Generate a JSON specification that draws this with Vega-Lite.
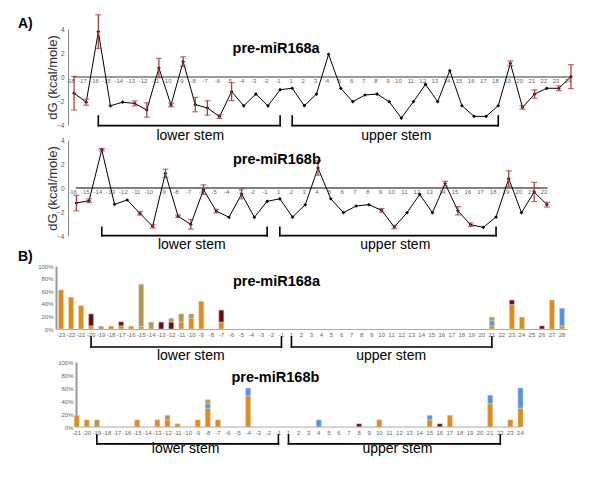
{
  "$schema": "https://vega.github.io/schema/vega-lite/v6.json",
  "padding": {"left": 18, "top": 14, "right": 5, "bottom": 5},
  "config": {"view": {"stroke": null}, "font": "Liberation Sans", "axis": {"grid": false}, "axisY": {"tickCount": 10, "labelOverlap": false}},
  "datasets": {
    "a1": [
      {"pos": "-18", "dg": -1.35, "err": 1.4}, {"pos": "-17", "dg": -2.1, "err": 0.25}, {"pos": "-16", "dg": 3.78, "err": 1.4},
      {"pos": "-15", "dg": -2.4, "err": 0}, {"pos": "-14", "dg": -2.1, "err": 0}, {"pos": "-13", "dg": -2.2, "err": 0.2},
      {"pos": "-12", "dg": -2.75, "err": 0.6}, {"pos": "-11", "dg": 0.75, "err": 0.8}, {"pos": "-10", "dg": -2.33, "err": 0.15},
      {"pos": "-9", "dg": 1.28, "err": 0.4}, {"pos": "-8", "dg": -2.3, "err": 0.6}, {"pos": "-7", "dg": -2.58, "err": 0.6},
      {"pos": "-6", "dg": -3.3, "err": 0.15}, {"pos": "-5", "dg": -1.22, "err": 0.75}, {"pos": "-4", "dg": -2.4, "err": 0},
      {"pos": "-3", "dg": -1.42, "err": 0}, {"pos": "-2", "dg": -2.4, "err": 0}, {"pos": "-1", "dg": -1.06, "err": 0},
      {"pos": "1", "dg": -0.94, "err": 0}, {"pos": "2", "dg": -2.39, "err": 0}, {"pos": "3", "dg": -1.42, "err": 0},
      {"pos": "4", "dg": 1.89, "err": 0}, {"pos": "5", "dg": -0.94, "err": 0}, {"pos": "6", "dg": -2.06, "err": 0},
      {"pos": "7", "dg": -1.5, "err": 0}, {"pos": "8", "dg": -1.42, "err": 0}, {"pos": "9", "dg": -2.06, "err": 0},
      {"pos": "10", "dg": -3.42, "err": 0}, {"pos": "11", "dg": -2.06, "err": 0}, {"pos": "12", "dg": -0.61, "err": 0},
      {"pos": "13", "dg": -2.06, "err": 0}, {"pos": "14", "dg": 0.53, "err": 0}, {"pos": "15", "dg": -2.39, "err": 0},
      {"pos": "16", "dg": -3.28, "err": 0}, {"pos": "17", "dg": -3.28, "err": 0}, {"pos": "18", "dg": -2.39, "err": 0},
      {"pos": "19", "dg": 1.14, "err": 0.2}, {"pos": "20", "dg": -2.53, "err": 0.15}, {"pos": "21", "dg": -1.42, "err": 0.35},
      {"pos": "22", "dg": -0.94, "err": 0}, {"pos": "23", "dg": -0.94, "err": 0.2}, {"pos": "24", "dg": 0.03, "err": 1.0}
    ],
    "a2": [
      {"pos": "-16", "dg": -1.25, "err": 0.65}, {"pos": "-15", "dg": -1.06, "err": 0.15}, {"pos": "-14", "dg": 3.19, "err": 0.1},
      {"pos": "-13", "dg": -1.36, "err": 0}, {"pos": "-12", "dg": -1.0, "err": 0}, {"pos": "-11", "dg": -2.11, "err": 0.15},
      {"pos": "-10", "dg": -3.19, "err": 0.15}, {"pos": "-9", "dg": 1.22, "err": 0.35}, {"pos": "-8", "dg": -2.36, "err": 0.1},
      {"pos": "-7", "dg": -3.03, "err": 0.4}, {"pos": "-6", "dg": -0.14, "err": 0.4}, {"pos": "-5", "dg": -1.92, "err": 0.15},
      {"pos": "-4", "dg": -2.44, "err": 0}, {"pos": "-3", "dg": -0.5, "err": 0.4}, {"pos": "-2", "dg": -2.44, "err": 0},
      {"pos": "-1", "dg": -1.11, "err": 0}, {"pos": "1", "dg": -0.9, "err": 0}, {"pos": "2", "dg": -2.42, "err": 0},
      {"pos": "3", "dg": -1.39, "err": 0}, {"pos": "4", "dg": 1.67, "err": 0.6}, {"pos": "5", "dg": -0.89, "err": 0},
      {"pos": "6", "dg": -2.06, "err": 0}, {"pos": "7", "dg": -1.5, "err": 0}, {"pos": "8", "dg": -1.39, "err": 0},
      {"pos": "9", "dg": -1.86, "err": 0.15}, {"pos": "10", "dg": -3.25, "err": 0.15}, {"pos": "11", "dg": -2.06, "err": 0},
      {"pos": "12", "dg": -0.53, "err": 0}, {"pos": "13", "dg": -2.06, "err": 0}, {"pos": "14", "dg": 0.36, "err": 0.2},
      {"pos": "15", "dg": -1.9, "err": 0.35}, {"pos": "16", "dg": -3.06, "err": 0.15}, {"pos": "17", "dg": -3.28, "err": 0},
      {"pos": "18", "dg": -2.42, "err": 0}, {"pos": "19", "dg": 0.78, "err": 0.65}, {"pos": "20", "dg": -2.06, "err": 0},
      {"pos": "21", "dg": -0.33, "err": 0.8}, {"pos": "22", "dg": -1.39, "err": 0.2}
    ],
    "b1": [
      {"pos": "-23", "type": "class 1", "pct": 0.62}, {"pos": "-22", "type": "class 1", "pct": 0.505},
      {"pos": "-21", "type": "class 1", "pct": 0.37},
      {"pos": "-20", "type": "class 1", "pct": 0.05}, {"pos": "-20", "type": "class 2", "pct": 0.19},
      {"pos": "-19", "type": "class 4", "pct": 0.045}, {"pos": "-18", "type": "class 1", "pct": 0.045},
      {"pos": "-17", "type": "class 1", "pct": 0.05}, {"pos": "-17", "type": "class 2", "pct": 0.065},
      {"pos": "-16", "type": "class 1", "pct": 0.045},
      {"pos": "-15", "type": "class 1", "pct": 0.04}, {"pos": "-15", "type": "class 4", "pct": 0.67},
      {"pos": "-14", "type": "class 4", "pct": 0.11}, {"pos": "-13", "type": "class 2", "pct": 0.11},
      {"pos": "-12", "type": "class 2", "pct": 0.11}, {"pos": "-12", "type": "class 4", "pct": 0.06},
      {"pos": "-11", "type": "class 1", "pct": 0.11}, {"pos": "-11", "type": "class 4", "pct": 0.13},
      {"pos": "-10", "type": "class 1", "pct": 0.17}, {"pos": "-10", "type": "class 4", "pct": 0.07},
      {"pos": "-9", "type": "class 1", "pct": 0.44},
      {"pos": "-7", "type": "class 1", "pct": 0.11}, {"pos": "-7", "type": "class 2", "pct": 0.19},
      {"pos": "21", "type": "class 1", "pct": 0.05}, {"pos": "21", "type": "class 3", "pct": 0.08}, {"pos": "21", "type": "class 4", "pct": 0.06},
      {"pos": "23", "type": "class 1", "pct": 0.39}, {"pos": "23", "type": "class 2", "pct": 0.07},
      {"pos": "24", "type": "class 1", "pct": 0.19}, {"pos": "26", "type": "class 2", "pct": 0.05},
      {"pos": "27", "type": "class 1", "pct": 0.46},
      {"pos": "28", "type": "class 1", "pct": 0.05}, {"pos": "28", "type": "class 3", "pct": 0.28}
    ],
    "b2": [
      {"pos": "-21", "type": "class 1", "pct": 0.18}, {"pos": "-20", "type": "class 1", "pct": 0.11},
      {"pos": "-19", "type": "class 4", "pct": 0.11}, {"pos": "-15", "type": "class 1", "pct": 0.11},
      {"pos": "-13", "type": "class 1", "pct": 0.11},
      {"pos": "-12", "type": "class 1", "pct": 0.11}, {"pos": "-12", "type": "class 4", "pct": 0.07},
      {"pos": "-11", "type": "class 1", "pct": 0.05}, {"pos": "-9", "type": "class 1", "pct": 0.11},
      {"pos": "-8", "type": "class 1", "pct": 0.29}, {"pos": "-8", "type": "class 3", "pct": 0.07}, {"pos": "-8", "type": "class 4", "pct": 0.06},
      {"pos": "-7", "type": "class 1", "pct": 0.11},
      {"pos": "-4", "type": "class 1", "pct": 0.48}, {"pos": "-4", "type": "class 3", "pct": 0.12},
      {"pos": "4", "type": "class 3", "pct": 0.11}, {"pos": "8", "type": "class 2", "pct": 0.05},
      {"pos": "10", "type": "class 1", "pct": 0.11},
      {"pos": "15", "type": "class 1", "pct": 0.11}, {"pos": "15", "type": "class 3", "pct": 0.07},
      {"pos": "16", "type": "class 2", "pct": 0.05}, {"pos": "17", "type": "class 1", "pct": 0.18},
      {"pos": "21", "type": "class 1", "pct": 0.36}, {"pos": "21", "type": "class 3", "pct": 0.13},
      {"pos": "23", "type": "class 1", "pct": 0.11},
      {"pos": "24", "type": "class 1", "pct": 0.29}, {"pos": "24", "type": "class 3", "pct": 0.31}
    ],
    "brA1": [{"s": "-16", "e": "-1", "mid": "-8", "label": "lower stem"}, {"s": "1", "e": "18", "mid": "10", "label": "upper stem"}],
    "brA2": [{"s": "-14", "e": "-1", "mid": "-7", "label": "lower stem"}, {"s": "1", "e": "18", "mid": "10", "label": "upper stem"}],
    "brB1": [{"s": "-20", "e": "-1", "mid": "-10", "label": "lower stem"}, {"s": "1", "e": "21", "mid": "11", "label": "upper stem"}],
    "brB2": [{"s": "-19", "e": "-1", "mid": "-10", "label": "lower stem"}, {"s": "1", "e": "22", "mid": "12", "label": "upper stem"}]
  },
  "spacing": -3,
  "vconcat": [
    {
      "bounds": "flush",
      "spacing": 15,
      "vconcat": [
        {
          "width": 521,
          "height": 96,
          "title": {"text": "A)", "anchor": "start", "frame": "group", "dx": -38, "dy": 17, "offset": 0, "fontSize": 14, "fontWeight": "bold", "color": "#000000"},
          "layer": [
            {
              "data": {"values": [{"from": "-18", "to": "24"}]},
              "mark": {"type": "rule", "color": "#9a9a9a", "strokeWidth": 2, "strokeCap": "square"},
              "encoding": {"x": {"field": "from", "type": "ordinal", "title": null}, "x2": {"field": "to"},
                "y": {"datum": 0, "axis": {"title": "dG (kcal/mole)", "offset": -12, "titleFontSize": 13, "titleFontWeight": "normal", "titleColor": "#333333", "titlePadding": -3, "values": [-4, -2, 0, 2, 4], "tickCount": 10, "labelOverlap": false, "ticks": false, "labelFontSize": 6.5, "labelColor": "#555555", "labelPadding": 4, "domainColor": "#888888"}}}
            },
            {
              "data": {"name": "a1"},
              "mark": {"type": "line", "color": "#000000", "strokeWidth": 1, "point": {"shape": "diamond", "size": 14, "color": "#000000", "filled": true}},
              "encoding": {
                "x": {"field": "pos", "type": "ordinal",
                  "sort": ["-18","-17","-16","-15","-14","-13","-12","-11","-10","-9","-8","-7","-6","-5","-4","-3","-2","-1","1","2","3","4","5","6","7","8","9","10","11","12","13","14","15","16","17","18","19","20","21","22","23","24"],
                  "scale": {"type": "point", "padding": 0.995, "align": 0.75, "domain": ["-18","-17","-16","-15","-14","-13","-12","-11","-10","-9","-8","-7","-6","-5","-4","-3","-2","-1","1","2","3","4","5","6","7","8","9","10","11","12","13","14","15","16","17","18","19","20","21","22","23","24"]},
                  "axis": {"orient": "bottom", "offset": -48, "title": null, "ticks": false, "domain": false, "labelFontSize": 6, "labelColor": "#666666", "labelPadding": 3, "labelAngle": 0, "labelOverlap": false}},
                "y": {"field": "dg", "type": "quantitative", "scale": {"domain": [-4, 4], "nice": false, "zero": false},
                  "axis": {"title": "dG (kcal/mole)", "offset": -12, "titleFontSize": 13, "titleFontWeight": "normal", "titleColor": "#333333", "titlePadding": -3, "values": [-4, -2, 0, 2, 4], "tickCount": 10, "labelOverlap": false, "ticks": false, "labelFontSize": 6.5, "labelColor": "#555555", "labelPadding": 4, "domainColor": "#888888"}}
              }
            },
            {
              "data": {"name": "a1"},
              "transform": [{"filter": "datum.err > 0"}],
              "mark": {"type": "errorbar", "ticks": true, "size": 6, "thickness": 1.2, "color": "#a8323a"},
              "encoding": {"x": {"field": "pos", "type": "ordinal", "title": null},
                "y": {"field": "dg", "type": "quantitative", "axis": {"title": "dG (kcal/mole)", "offset": -12, "titleFontSize": 13, "titleFontWeight": "normal", "titleColor": "#333333", "titlePadding": -3, "values": [-4, -2, 0, 2, 4], "tickCount": 10, "labelOverlap": false, "ticks": false, "labelFontSize": 6.5, "labelColor": "#555555", "labelPadding": 4, "domainColor": "#888888"}},
                "yError": {"field": "err"}}
            },
            {
              "data": {"name": "brA1"},
              "mark": {"type": "rule", "color": "#000000", "strokeWidth": 1.6, "strokeCap": "square"},
              "encoding": {"x": {"field": "s", "type": "ordinal", "title": null}, "x2": {"field": "e"}, "y": {"datum": -4.05}}
            },
            {
              "data": {"name": "brA1"},
              "mark": {"type": "rule", "color": "#000000", "strokeWidth": 1.6, "strokeCap": "square"},
              "encoding": {"x": {"field": "s", "type": "ordinal", "title": null}, "y": {"datum": -4.05}, "y2": {"datum": -3.25}}
            },
            {
              "data": {"name": "brA1"},
              "mark": {"type": "rule", "color": "#000000", "strokeWidth": 1.6, "strokeCap": "square"},
              "encoding": {"x": {"field": "e", "type": "ordinal", "title": null}, "y": {"datum": -4.05}, "y2": {"datum": -3.25}}
            },
            {
              "data": {"name": "brA1"},
              "mark": {"type": "text", "fontSize": 14, "dx": -5, "align": "center", "baseline": "alphabetic", "color": "#000000"},
              "encoding": {"x": {"field": "mid", "type": "ordinal", "title": null}, "y": {"datum": -5.25}, "text": {"field": "label"}}
            },
            {
              "data": {"values": [{"label": "pre-miR168a"}]},
              "mark": {"type": "text", "fontSize": 14.5, "fontWeight": "bold", "dx": -4, "align": "center", "baseline": "alphabetic", "color": "#000000"},
              "encoding": {"x": {"datum": "-1", "type": "ordinal"}, "y": {"datum": 1.98}, "text": {"field": "label"}}
            }
          ]
        },
        {
          "width": 496,
          "height": 96,
          "layer": [
            {
              "data": {"values": [{"from": "-16", "to": "22"}]},
              "mark": {"type": "rule", "color": "#000000", "strokeWidth": 1, "strokeCap": "square"},
              "encoding": {"x": {"field": "from", "type": "ordinal", "title": null}, "x2": {"field": "to"},
                "y": {"datum": 0, "axis": {"title": "dG (kcal/mole)", "offset": -12, "titleFontSize": 13, "titleFontWeight": "normal", "titleColor": "#333333", "titlePadding": -3, "values": [-4, -2, 0, 2, 4], "tickCount": 10, "labelOverlap": false, "ticks": false, "labelFontSize": 6.5, "labelColor": "#555555", "labelPadding": 4, "domainColor": "#888888"}}}
            },
            {
              "data": {"name": "a2"},
              "mark": {"type": "line", "color": "#000000", "strokeWidth": 1, "point": {"shape": "diamond", "size": 14, "color": "#000000", "filled": true}},
              "encoding": {
                "x": {"field": "pos", "type": "ordinal",
                  "sort": ["-16","-15","-14","-13","-12","-11","-10","-9","-8","-7","-6","-5","-4","-3","-2","-1","1","2","3","4","5","6","7","8","9","10","11","12","13","14","15","16","17","18","19","20","21","22"],
                  "scale": {"type": "point", "padding": 1.02, "align": 0.8, "domain": ["-16","-15","-14","-13","-12","-11","-10","-9","-8","-7","-6","-5","-4","-3","-2","-1","1","2","3","4","5","6","7","8","9","10","11","12","13","14","15","16","17","18","19","20","21","22"]},
                  "axis": {"orient": "bottom", "offset": -48, "title": null, "ticks": false, "domain": false, "labelFontSize": 6, "labelColor": "#666666", "labelPadding": 3, "labelAngle": 0, "labelOverlap": false}},
                "y": {"field": "dg", "type": "quantitative", "scale": {"domain": [-4, 4], "nice": false, "zero": false},
                  "axis": {"title": "dG (kcal/mole)", "offset": -12, "titleFontSize": 13, "titleFontWeight": "normal", "titleColor": "#333333", "titlePadding": -3, "values": [-4, -2, 0, 2, 4], "tickCount": 10, "labelOverlap": false, "ticks": false, "labelFontSize": 6.5, "labelColor": "#555555", "labelPadding": 4, "domainColor": "#888888"}}
              }
            },
            {
              "data": {"name": "a2"},
              "transform": [{"filter": "datum.err > 0"}],
              "mark": {"type": "errorbar", "ticks": true, "size": 6, "thickness": 1.2, "color": "#a8323a"},
              "encoding": {"x": {"field": "pos", "type": "ordinal", "title": null},
                "y": {"field": "dg", "type": "quantitative", "axis": {"title": "dG (kcal/mole)", "offset": -12, "titleFontSize": 13, "titleFontWeight": "normal", "titleColor": "#333333", "titlePadding": -3, "values": [-4, -2, 0, 2, 4], "tickCount": 10, "labelOverlap": false, "ticks": false, "labelFontSize": 6.5, "labelColor": "#555555", "labelPadding": 4, "domainColor": "#888888"}},
                "yError": {"field": "err"}}
            },
            {
              "data": {"name": "brA2"},
              "mark": {"type": "rule", "color": "#000000", "strokeWidth": 1.6, "strokeCap": "square"},
              "encoding": {"x": {"field": "s", "type": "ordinal", "title": null}, "x2": {"field": "e"}, "y": {"datum": -3.97}}
            },
            {
              "data": {"name": "brA2"},
              "mark": {"type": "rule", "color": "#000000", "strokeWidth": 1.6, "strokeCap": "square"},
              "encoding": {"x": {"field": "s", "type": "ordinal", "title": null}, "y": {"datum": -3.97}, "y2": {"datum": -3.28}}
            },
            {
              "data": {"name": "brA2"},
              "mark": {"type": "rule", "color": "#000000", "strokeWidth": 1.6, "strokeCap": "square"},
              "encoding": {"x": {"field": "e", "type": "ordinal", "title": null}, "y": {"datum": -3.97}, "y2": {"datum": -3.28}}
            },
            {
              "data": {"name": "brA2"},
              "mark": {"type": "text", "fontSize": 14, "dx": 1, "align": "center", "baseline": "alphabetic", "color": "#000000"},
              "encoding": {"x": {"field": "mid", "type": "ordinal", "title": null}, "y": {"datum": -5.12}, "text": {"field": "label"}}
            },
            {
              "data": {"values": [{"label": "pre-miR168b"}]},
              "mark": {"type": "text", "fontSize": 14.5, "fontWeight": "bold", "dx": -3, "align": "center", "baseline": "alphabetic", "color": "#000000"},
              "encoding": {"x": {"datum": "1", "type": "ordinal"}, "y": {"datum": 1.97}, "text": {"field": "label"}}
            }
          ]
        }
      ]
    },
    {
      "bounds": "flush",
      "spacing": 33,
      "vconcat": [
        {
          "width": 511,
          "height": 63,
          "title": {"text": "B)", "anchor": "start", "frame": "group", "dx": -38, "dy": 1, "offset": 0, "fontSize": 14, "fontWeight": "bold", "color": "#000000"},
          "layer": [
            {
              "data": {"name": "b1"},
              "mark": {"type": "bar", "stroke": "#d8d8d8", "strokeWidth": 0.5},
              "encoding": {
                "x": {"field": "pos", "type": "ordinal",
                  "scale": {"type": "band", "paddingInner": 0.5, "paddingOuter": 0.25, "domain": ["-23","-22","-21","-20","-19","-18","-17","-16","-15","-14","-13","-12","-11","-10","-9","-8","-7","-6","-5","-4","-3","-2","-1","1","2","3","4","5","6","7","8","9","10","11","12","13","14","15","16","17","18","19","20","21","22","23","24","25","26","27","28"]},
                  "axis": {"title": null, "ticks": false, "labelFontSize": 6, "labelColor": "#666666", "labelPadding": 2, "labelAngle": 0, "labelOverlap": false, "domainColor": "#aaaaaa"}},
                "y": {"field": "pct", "type": "quantitative", "stack": "zero", "scale": {"domain": [0, 1], "nice": false},
                  "axis": {"title": null, "format": ".0%", "values": [0, 0.2, 0.4, 0.6, 0.8, 1], "tickCount": 10, "labelOverlap": false, "ticks": false, "labelFontSize": 6, "labelColor": "#666666", "labelPadding": 3, "domainColor": "#999999", "domainWidth": 2}},
                "color": {"field": "type", "type": "nominal", "scale": {"domain": ["class 1", "class 2", "class 3", "class 4"], "range": ["#e38a12", "#730a0a", "#4f94ec", "#b5964e"]}, "legend": null},
                "order": {"field": "type", "sort": "ascending"}
              }
            },
            {
              "data": {"name": "brB1"},
              "mark": {"type": "rule", "color": "#000000", "strokeWidth": 1.6, "strokeCap": "square"},
              "encoding": {"x": {"field": "s", "type": "ordinal", "title": null}, "x2": {"field": "e"},
                "y": {"datum": -0.286, "axis": {"title": null, "format": ".0%", "values": [0, 0.2, 0.4, 0.6, 0.8, 1], "tickCount": 10, "labelOverlap": false, "ticks": false, "labelFontSize": 6, "labelColor": "#666666", "labelPadding": 3, "domainColor": "#999999", "domainWidth": 2}}}
            },
            {
              "data": {"name": "brB1"},
              "mark": {"type": "rule", "color": "#000000", "strokeWidth": 1.6, "strokeCap": "square"},
              "encoding": {"x": {"field": "s", "type": "ordinal", "title": null},
                "y": {"datum": -0.286, "axis": {"title": null, "format": ".0%", "values": [0, 0.2, 0.4, 0.6, 0.8, 1], "tickCount": 10, "labelOverlap": false, "ticks": false, "labelFontSize": 6, "labelColor": "#666666", "labelPadding": 3, "domainColor": "#999999", "domainWidth": 2}}, "y2": {"datum": -0.127}}
            },
            {
              "data": {"name": "brB1"},
              "mark": {"type": "rule", "color": "#000000", "strokeWidth": 1.6, "strokeCap": "square"},
              "encoding": {"x": {"field": "e", "type": "ordinal", "title": null},
                "y": {"datum": -0.286, "axis": {"title": null, "format": ".0%", "values": [0, 0.2, 0.4, 0.6, 0.8, 1], "tickCount": 10, "labelOverlap": false, "ticks": false, "labelFontSize": 6, "labelColor": "#666666", "labelPadding": 3, "domainColor": "#999999", "domainWidth": 2}}, "y2": {"datum": -0.127}}
            },
            {
              "data": {"name": "brB1"},
              "mark": {"type": "text", "fontSize": 14, "dx": -0.5, "align": "center", "baseline": "alphabetic", "color": "#000000"},
              "encoding": {"x": {"field": "mid", "type": "ordinal", "title": null},
                "y": {"datum": -0.49, "axis": {"title": null, "format": ".0%", "values": [0, 0.2, 0.4, 0.6, 0.8, 1], "tickCount": 10, "labelOverlap": false, "ticks": false, "labelFontSize": 6, "labelColor": "#666666", "labelPadding": 3, "domainColor": "#999999", "domainWidth": 2}}, "text": {"field": "label"}}
            },
            {
              "data": {"values": [{"label": "pre-miR168a"}]},
              "mark": {"type": "text", "fontSize": 14.5, "fontWeight": "bold", "dx": -5, "align": "center", "baseline": "alphabetic", "color": "#000000"},
              "encoding": {"x": {"datum": "-1", "type": "ordinal"},
                "y": {"datum": 0.69, "axis": {"title": null, "format": ".0%", "values": [0, 0.2, 0.4, 0.6, 0.8, 1], "tickCount": 10, "labelOverlap": false, "ticks": false, "labelFontSize": 6, "labelColor": "#666666", "labelPadding": 3, "domainColor": "#999999", "domainWidth": 2}}, "text": {"field": "label"}}
            }
          ]
        },
        {
          "width": 469,
          "height": 65,
          "layer": [
            {
              "data": {"name": "b2"},
              "mark": {"type": "bar", "stroke": "#d8d8d8", "strokeWidth": 0.5},
              "encoding": {
                "x": {"field": "pos", "type": "ordinal",
                  "scale": {"type": "band", "paddingInner": 0.5, "paddingOuter": 1.2, "align": 0.9, "domain": ["-21","-20","-19","-18","-17","-16","-15","-14","-13","-12","-11","-10","-9","-8","-7","-6","-5","-4","-3","-2","-1","1","2","3","4","5","6","7","8","9","10","11","12","13","14","15","16","17","18","19","20","21","22","23","24"]},
                  "axis": {"title": null, "ticks": false, "labelFontSize": 6, "labelColor": "#666666", "labelPadding": 2, "labelAngle": 0, "labelOverlap": false, "domain": false}},
                "y": {"field": "pct", "type": "quantitative", "stack": "zero", "scale": {"domain": [0, 1], "nice": false},
                  "axis": {"title": null, "offset": -20, "format": ".0%", "values": [0, 0.2, 0.4, 0.6, 0.8, 1], "tickCount": 10, "labelOverlap": false, "ticks": false, "labelFontSize": 6, "labelColor": "#666666", "labelPadding": 3, "domainColor": "#999999", "domainWidth": 2}},
                "color": {"field": "type", "type": "nominal", "scale": {"domain": ["class 1", "class 2", "class 3", "class 4"], "range": ["#e38a12", "#730a0a", "#4f94ec", "#b5964e"]}, "legend": null},
                "order": {"field": "type", "sort": "ascending"}
              }
            },
            {
              "data": {"values": [{"from": "-21", "to": "24"}]},
              "mark": {"type": "rule", "color": "#aaaaaa", "strokeWidth": 1},
              "encoding": {"x": {"field": "from", "type": "ordinal", "title": null}, "x2": {"field": "to"},
                "y": {"datum": 0, "axis": {"title": null, "offset": -20, "format": ".0%", "values": [0, 0.2, 0.4, 0.6, 0.8, 1], "tickCount": 10, "labelOverlap": false, "ticks": false, "labelFontSize": 6, "labelColor": "#666666", "labelPadding": 3, "domainColor": "#999999", "domainWidth": 2}}}
            },
            {
              "data": {"name": "brB2"},
              "mark": {"type": "rule", "color": "#000000", "strokeWidth": 1.6, "strokeCap": "square"},
              "encoding": {"x": {"field": "s", "type": "ordinal", "title": null}, "x2": {"field": "e"},
                "y": {"datum": -0.26, "axis": {"title": null, "offset": -20, "format": ".0%", "values": [0, 0.2, 0.4, 0.6, 0.8, 1], "tickCount": 10, "labelOverlap": false, "ticks": false, "labelFontSize": 6, "labelColor": "#666666", "labelPadding": 3, "domainColor": "#999999", "domainWidth": 2}}}
            },
            {
              "data": {"name": "brB2"},
              "mark": {"type": "rule", "color": "#000000", "strokeWidth": 1.6, "strokeCap": "square"},
              "encoding": {"x": {"field": "s", "type": "ordinal", "title": null},
                "y": {"datum": -0.26, "axis": {"title": null, "offset": -20, "format": ".0%", "values": [0, 0.2, 0.4, 0.6, 0.8, 1], "tickCount": 10, "labelOverlap": false, "ticks": false, "labelFontSize": 6, "labelColor": "#666666", "labelPadding": 3, "domainColor": "#999999", "domainWidth": 2}}, "y2": {"datum": -0.123}}
            },
            {
              "data": {"name": "brB2"},
              "mark": {"type": "rule", "color": "#000000", "strokeWidth": 1.6, "strokeCap": "square"},
              "encoding": {"x": {"field": "e", "type": "ordinal", "title": null},
                "y": {"datum": -0.26, "axis": {"title": null, "offset": -20, "format": ".0%", "values": [0, 0.2, 0.4, 0.6, 0.8, 1], "tickCount": 10, "labelOverlap": false, "ticks": false, "labelFontSize": 6, "labelColor": "#666666", "labelPadding": 3, "domainColor": "#999999", "domainWidth": 2}}, "y2": {"datum": -0.123}}
            },
            {
              "data": {"name": "brB2"},
              "mark": {"type": "text", "fontSize": 14, "dx": -2, "align": "center", "baseline": "alphabetic", "color": "#000000"},
              "encoding": {"x": {"field": "mid", "type": "ordinal", "title": null},
                "y": {"datum": -0.4, "axis": {"title": null, "offset": -20, "format": ".0%", "values": [0, 0.2, 0.4, 0.6, 0.8, 1], "tickCount": 10, "labelOverlap": false, "ticks": false, "labelFontSize": 6, "labelColor": "#666666", "labelPadding": 3, "domainColor": "#999999", "domainWidth": 2}}, "text": {"field": "label"}}
            },
            {
              "data": {"values": [{"label": "pre-miR168b"}]},
              "mark": {"type": "text", "fontSize": 14.5, "fontWeight": "bold", "dx": -3, "align": "center", "baseline": "alphabetic", "color": "#000000"},
              "encoding": {"x": {"datum": "-1", "type": "ordinal"},
                "y": {"datum": 0.69, "axis": {"title": null, "offset": -20, "format": ".0%", "values": [0, 0.2, 0.4, 0.6, 0.8, 1], "tickCount": 10, "labelOverlap": false, "ticks": false, "labelFontSize": 6, "labelColor": "#666666", "labelPadding": 3, "domainColor": "#999999", "domainWidth": 2}}, "text": {"field": "label"}}
            }
          ]
        }
      ]
    }
  ]
}
